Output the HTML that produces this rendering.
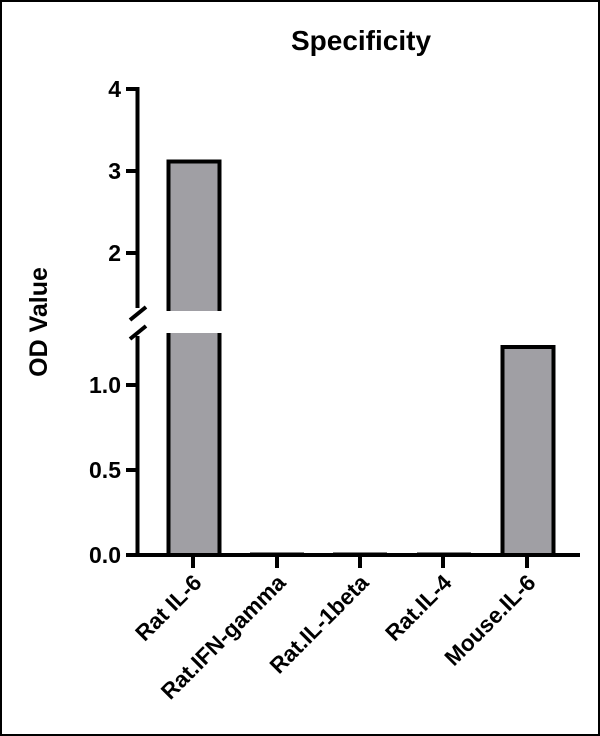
<!DOCTYPE html>
<html><head><style>
html,body{margin:0;padding:0;background:#fff}
svg{display:block}
text{font-family:"Liberation Sans",Arial,sans-serif;font-weight:bold;fill:#000}
</style></head><body>
<svg width="600" height="736" viewBox="0 0 600 736">
<rect x="1" y="1" width="598" height="734" fill="#fff" stroke="#000" stroke-width="2"/>
<text x="361" y="50" font-size="28" text-anchor="middle">Specificity</text>
<text transform="translate(47,322) rotate(-90)" font-size="25" text-anchor="middle">OD Value</text>
<!-- bars -->
<rect x="168.5" y="161.5" width="51" height="393.5" fill="#a09fa4" stroke="#000" stroke-width="4"/>
<rect x="164" y="311" width="60" height="22" fill="#fff"/>
<rect x="502.5" y="347" width="51" height="208" fill="#a09fa4" stroke="#000" stroke-width="4"/>
<line x1="250" y1="554" x2="304" y2="554" stroke="#000" stroke-width="3"/>
<line x1="333" y1="554" x2="387" y2="554" stroke="#000" stroke-width="3"/>
<line x1="417" y1="554" x2="471" y2="554" stroke="#000" stroke-width="3"/>
<!-- y axis -->
<g stroke="#000" stroke-width="4">
<line x1="137.5" y1="87" x2="137.5" y2="308"/>
<line x1="137.5" y1="336" x2="137.5" y2="557"/>
<line x1="126" y1="89" x2="137" y2="89"/>
<line x1="126" y1="171" x2="137" y2="171"/>
<line x1="126" y1="253" x2="137" y2="253"/>
<line x1="126" y1="385" x2="137" y2="385"/>
<line x1="126" y1="470" x2="137" y2="470"/>
<line x1="126" y1="555" x2="580" y2="555"/>
<line x1="130" y1="320" x2="146" y2="307"/>
<line x1="130" y1="339" x2="146" y2="326"/>
<line x1="193" y1="555" x2="193" y2="568"/>
<line x1="277" y1="555" x2="277" y2="568"/>
<line x1="360" y1="555" x2="360" y2="568"/>
<line x1="443" y1="555" x2="443" y2="568"/>
<line x1="527" y1="555" x2="527" y2="568"/>
</g>
<g font-size="23" text-anchor="end">
<text x="121" y="97">4</text>
<text x="121" y="179">3</text>
<text x="121" y="261">2</text>
<text x="121" y="393">1.0</text>
<text x="121" y="478">0.5</text>
<text x="121" y="563">0.0</text>
</g>
<g font-size="22.5" text-anchor="end">
<text transform="translate(203,584) rotate(-45)">Rat IL-6</text>
<text transform="translate(287,584) rotate(-45)">Rat.IFN-gamma</text>
<text transform="translate(370,584) rotate(-45)">Rat.IL-1beta</text>
<text transform="translate(453,584) rotate(-45)">Rat.IL-4</text>
<text transform="translate(537,584) rotate(-45)">Mouse.IL-6</text>
</g>
</svg>
</body></html>
